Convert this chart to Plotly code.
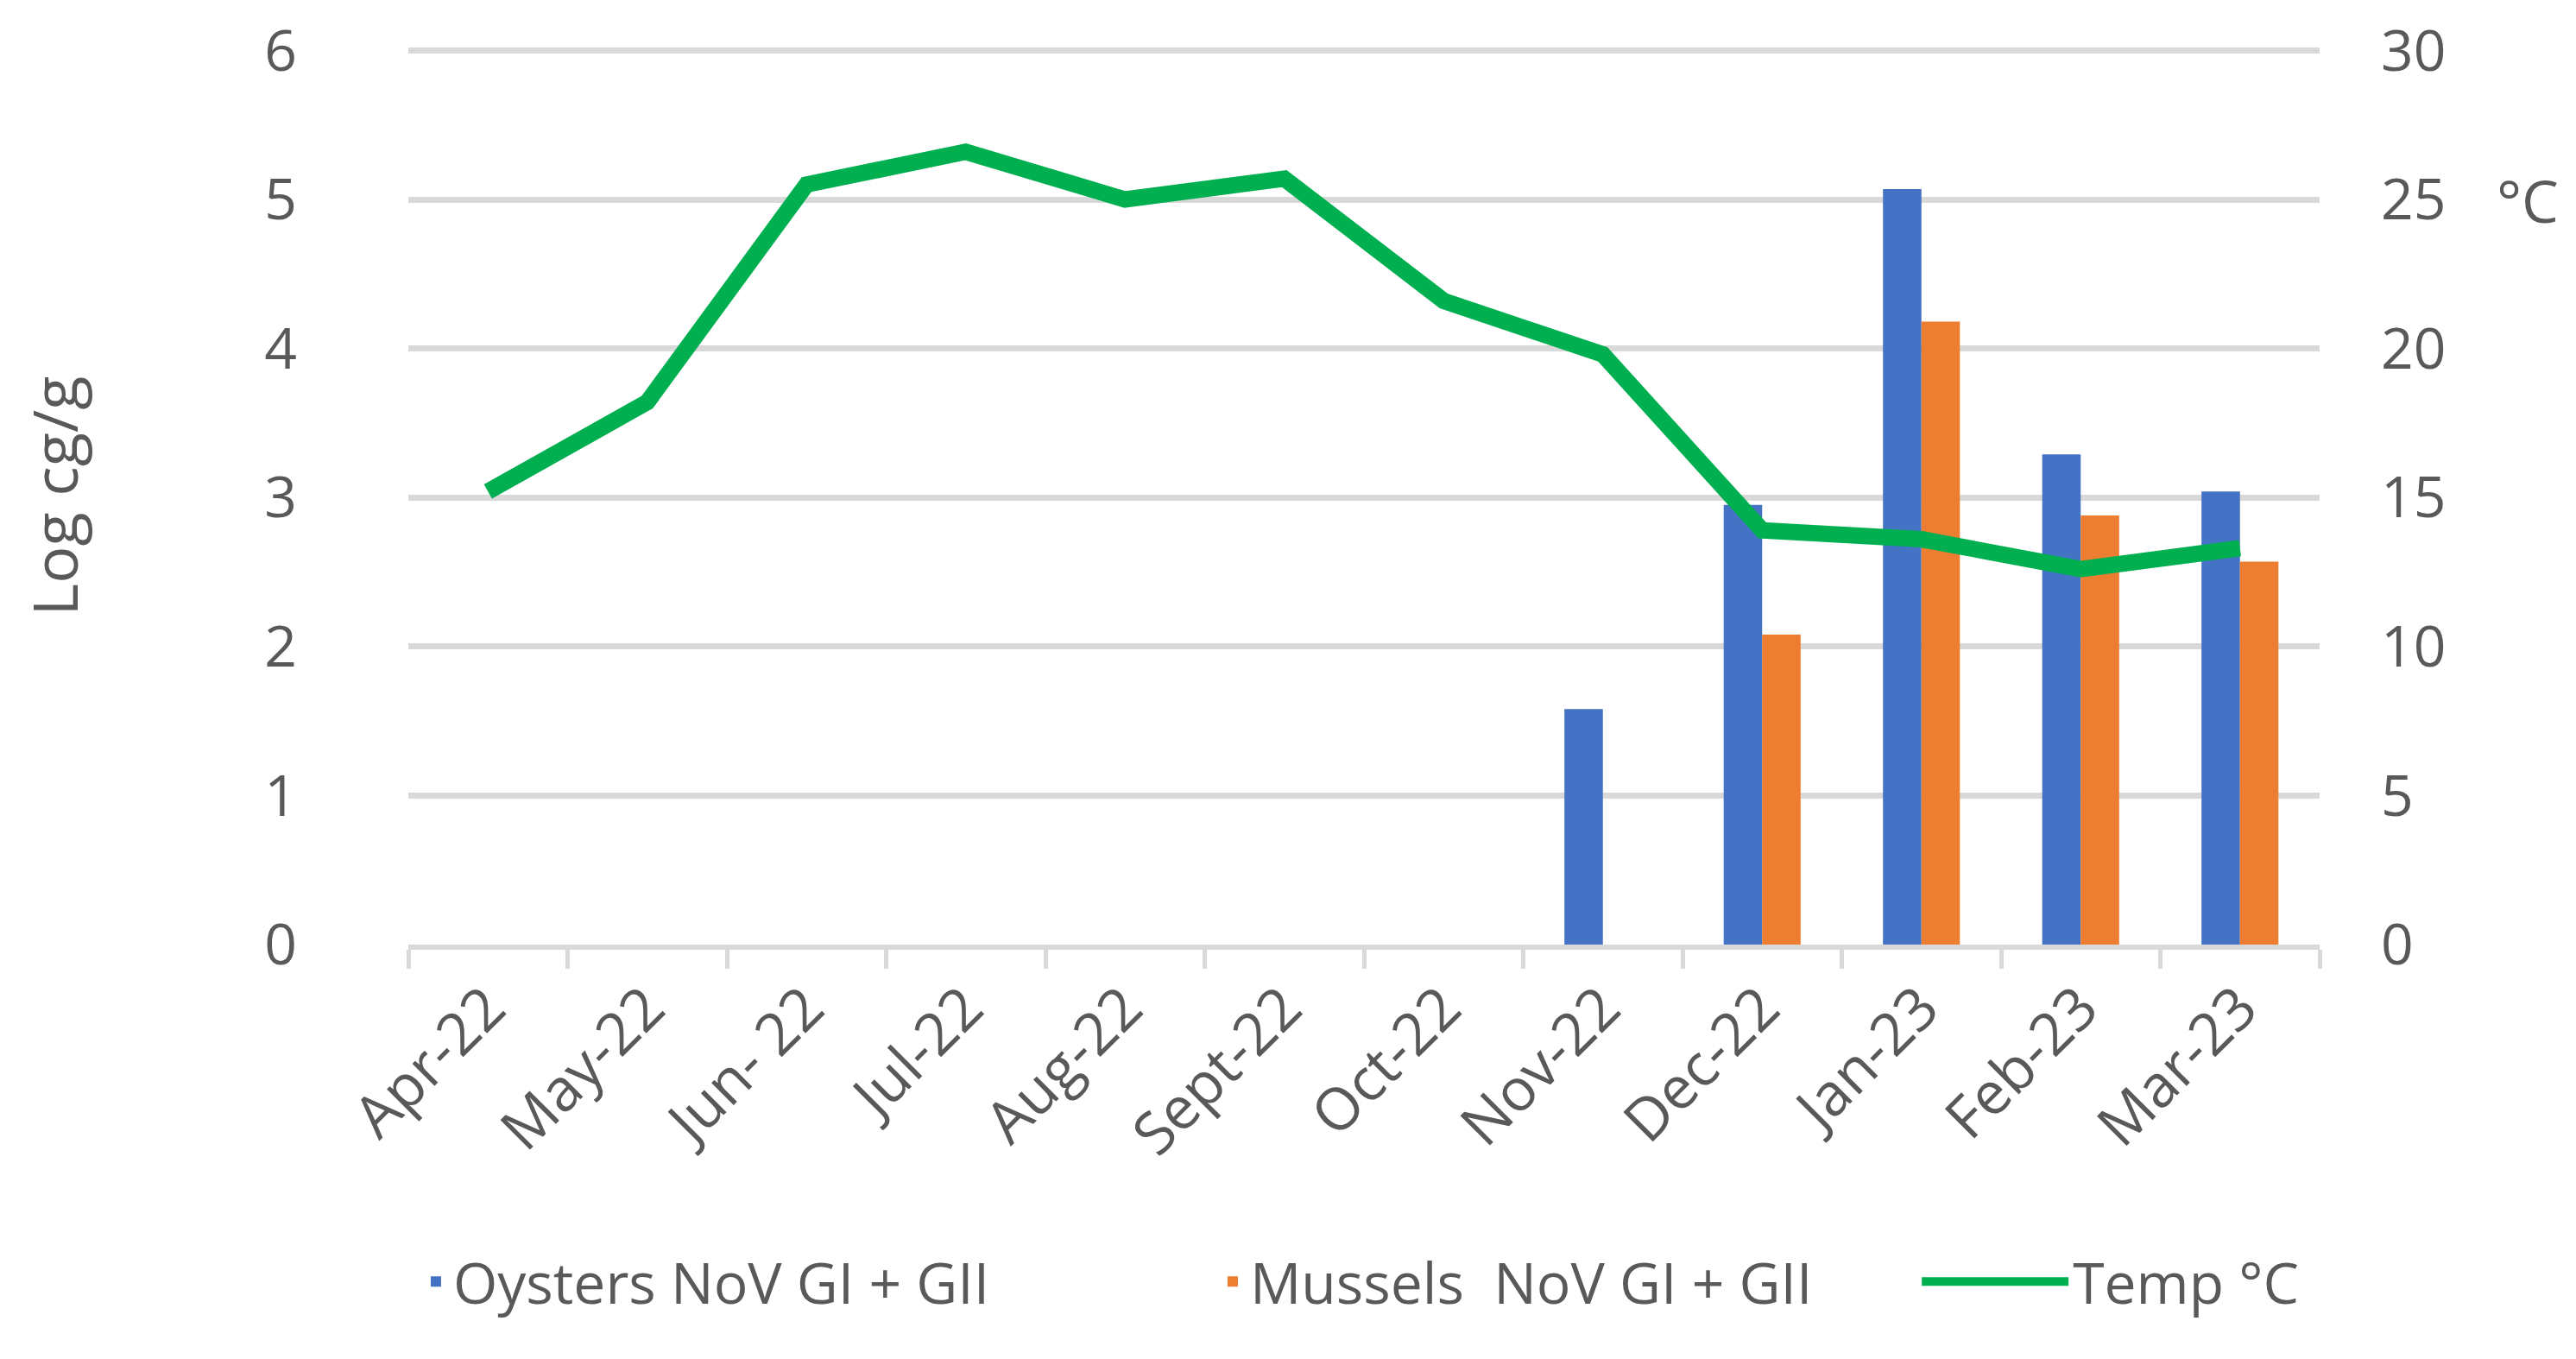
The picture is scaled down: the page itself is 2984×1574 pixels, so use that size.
import plotly.graph_objects as go

months = ["Apr-22", "May-22", "Jun- 22", "Jul-22", "Aug-22", "Sept-22",
          "Oct-22", "Nov-22", "Dec-22", "Jan-23", "Feb-23", "Mar-23"]
oysters = [None, None, None, None, None, None, None, 1.58, 2.95, 5.07, 3.29, 3.04]
mussels = [None, None, None, None, None, None, None, None, 2.08, 4.18, 2.88, 2.57]
temp_c = [15.2, 18.2, 25.5, 26.6, 25.0, 25.7, 21.6, 19.8, 13.9, 13.6, 12.6, 13.3]

left_ticks = [0, 1, 2, 3, 4, 5, 6]
right_ticks = [0, 5, 10, 15, 20, 25, 30]

FONT = "Open Sans"
GREY = "#595959"
GRID = "#D9D9D9"

fig = go.Figure()
fig.add_trace(go.Bar(x=months, y=oysters, name="Oysters NoV GI + GII", legend="legend",
                     marker=dict(color="#4472C4", line=dict(width=0))))
fig.add_trace(go.Bar(x=months, y=mussels, name="Mussels  NoV GI + GII", legend="legend2",
                     marker=dict(color="#ED7D31", line=dict(width=0))))
fig.add_trace(go.Scatter(x=months, y=temp_c, name="Temp °C", yaxis="y2", legend="legend3",
                         mode="lines", line=dict(color="#00B050", width=19)))

leg_common = dict(orientation="h", xanchor="left", y=-0.3757, yanchor="middle",
                  font=dict(size=66, color=GREY), bgcolor="rgba(0,0,0,0)")

fig.update_layout(
    width=2984, height=1574,
    margin=dict(l=465, r=305, t=47, b=488, autoexpand=False),
    paper_bgcolor="white", plot_bgcolor="white",
    font=dict(family=FONT, size=64, color=GREY),
    barmode="group", bargap=0.517, bargroupgap=0,
    showlegend=True,
    legend=dict(x=0.0054, itemwidth=30, **leg_common),
    legend2=dict(x=0.4223, itemwidth=30, **leg_common),
    legend3=dict(x=0.7896, itemwidth=170, **leg_common),
    xaxis=dict(type="category", automargin=False, showgrid=False, showline=True,
               linecolor=GRID, linewidth=6,
               ticks="outside", tickson="boundaries", ticklen=22, tickwidth=5, tickcolor=GRID,
               tickangle=-45, tickfont=dict(size=68, color=GREY)),
    yaxis=dict(range=[0, 6.02], tickvals=left_ticks, automargin=False,
               showgrid=True, gridcolor=GRID, gridwidth=7,
               zeroline=False, showline=False, ticks="", ticklabelstandoff=128,
               tickfont=dict(size=66, color=GREY),
               title=dict(text="Log cg/g", standoff=192, font=dict(size=72, color=GREY))),
    yaxis2=dict(range=[0, 30.1], tickvals=right_ticks, overlaying="y", side="right",
                automargin=False, showgrid=False, zeroline=False, showline=False, ticks="",
                ticklabelstandoff=70, tickfont=dict(size=66, color=GREY)),
    annotations=[dict(text="°C", xref="paper", x=1, xanchor="left", xshift=203,
                      yref="y2", y=25, yanchor="middle", showarrow=False,
                      font=dict(size=68, color=GREY))],
)

fig.write_html("out.html")
